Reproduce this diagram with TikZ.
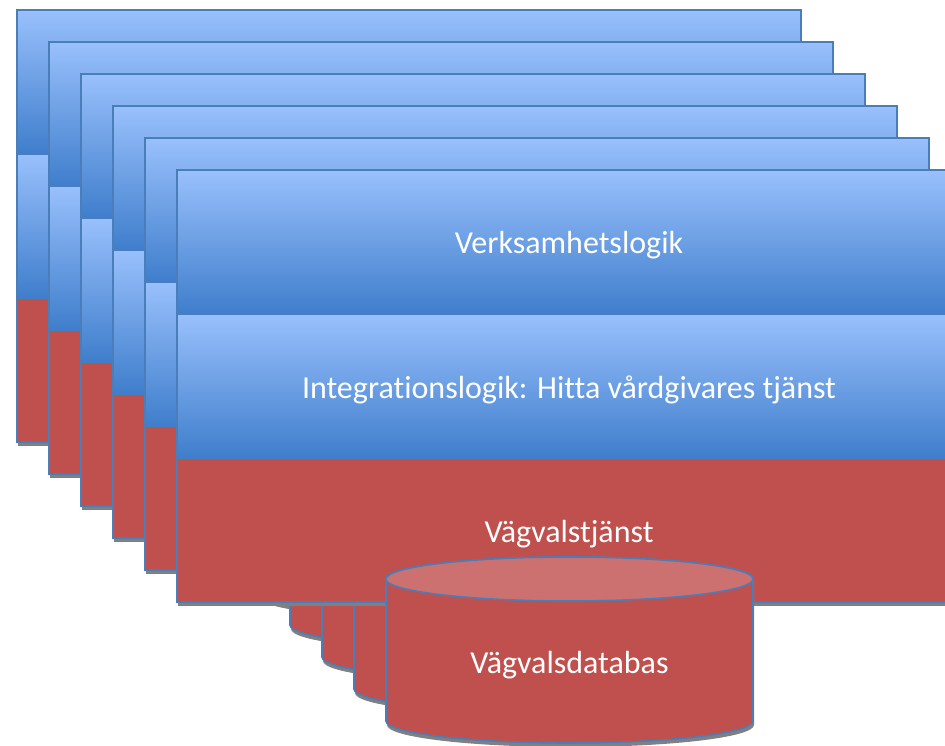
\documentclass[tikz,border=0pt]{standalone}
\usepackage{fontspec}
\setmainfont{Carlito}[Ligatures=NoCommon]
\definecolor{edge}{HTML}{4A7EBB}
\definecolor{bluetop}{HTML}{99C0FC}
\definecolor{bluebot}{HTML}{3F7ECC}
\definecolor{layerred}{HTML}{C0504D}
\definecolor{lidred}{HTML}{CD7170}
\definecolor{shadowgray}{HTML}{808080}
\begin{document}
\begin{tikzpicture}[x=1pt,y=-1pt,
  band/.style={draw=edge, line width=1.2pt, top color=bluetop, bottom color=bluebot},
  redband/.style={draw=edge, line width=1.2pt, fill=layerred},
  cylbody/.style={draw=edge, line width=1.6pt, fill=layerred},
  cyllid/.style={draw=edge, line width=1.6pt, fill=lidred},
  dropshadow/.style={fill=shadowgray},
  layertext/.style={text=white, font=\fontsize{32}{38}\selectfont, inner sep=0pt}
]
\useasboundingbox (0,0) rectangle (945,746);
\clip (0,0) rectangle (945,746);
% six stacked service cards, each carrying its own routing database
\foreach \k in {0,...,5}{
  \pgfmathsetmacro\cx{17+32*\k}
  \pgfmathsetmacro\cy{10+32*\k}
  \fill[dropshadow] (\cx+1,\cy+4) rectangle ++(784,432);
  \path[band] (\cx,\cy) rectangle ++(784,144);
  \path[band] (\cx,\cy+144) rectangle ++(784,144);
  \path[redband] (\cx,\cy+288) rectangle ++(784,144);
  % database cylinder
  \pgfmathsetmacro\dx{569.5-32*(5-\k)}
  \pgfmathsetmacro\ty{579-32*(5-\k)}
  \pgfmathsetmacro\by{721-32*(5-\k)}
  \fill[dropshadow] (\dx-182.5,\ty+4) -- (\dx-182.5,\by+4)
    arc[start angle=180, end angle=360, x radius=183.5pt, y radius=22pt]
    -- (\dx+184.5,\ty+4) -- cycle;
  \path[cylbody] (\dx-183.5,\ty) -- (\dx-183.5,\by)
    arc[start angle=180, end angle=360, x radius=183.5pt, y radius=22pt]
    -- (\dx+183.5,\ty)
    arc[start angle=0, end angle=180, x radius=183.5pt, y radius=22pt] -- cycle;
  \path[cyllid] (\dx,\ty) ellipse[x radius=183.5pt, y radius=22pt];
}
\node[layertext] (biz) at (569,245) {Verksamhetslogik};
\node[layertext] (integ) at (569,390) {Integrationslogik: Hitta vårdgivares tjänst};
\node[layertext] (route) at (569,534) {Vägvalstjänst};
\node[layertext] (db) at (569.5,665) {Vägvalsdatabas};
\end{tikzpicture}
\end{document}
